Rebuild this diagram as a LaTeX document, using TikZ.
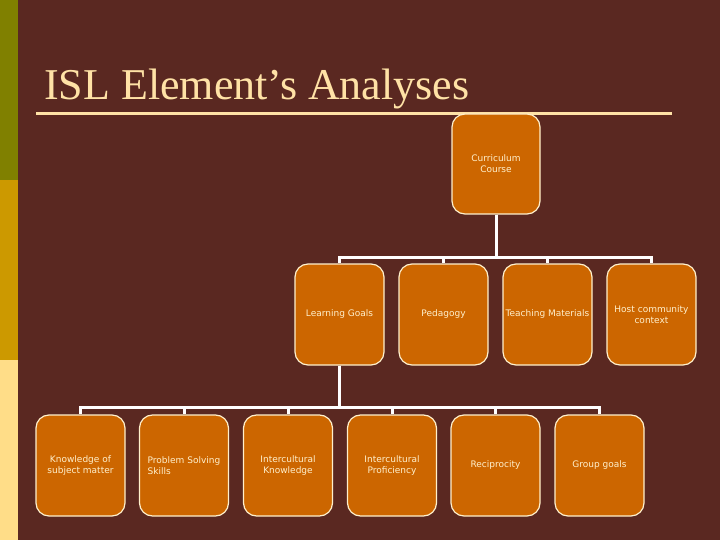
\documentclass[tikz,border=0pt]{standalone}
\usepackage{fontspec}
\setmainfont{Liberation Serif}
\newfontfamily\boxfont{DejaVu Sans}
\usetikzlibrary{positioning}
\definecolor{cBg}{HTML}{5A2821}
\definecolor{cOlive}{HTML}{808000}
\definecolor{cGold}{HTML}{CC9900}
\definecolor{cSand}{HTML}{FFDD88}
\definecolor{cBox}{HTML}{CC6600}
\definecolor{cRim}{HTML}{FFF0CC}
\definecolor{cTitle}{HTML}{FFE2A6}
\tikzset{
  card/.style={draw=cRim, line width=1.2pt, rounded corners=13pt, fill=cBox,
    minimum width=89pt, minimum height=101pt, inner sep=2pt, align=center,
    font=\boxfont\fontsize{9}{11}\selectfont, text=cRim},
  link/.style={draw=white, line width=3pt},
}
\begin{document}
\begin{tikzpicture}[x=1pt, y=-1pt]
% slide frame: 720 x 540 px, one unit = one pixel
\fill[cBg] (0,0) rectangle (720,540);
\useasboundingbox (0,0) rectangle (720,540);
\fill[cOlive] (0,0) rectangle (18,180);
\fill[cGold] (0,180) rectangle (18,360);
\fill[cSand] (0,360) rectangle (18,540);

% title and rule
\node[anchor=base west, inner sep=0pt, text=cTitle, font=\fontsize{44}{48}\selectfont] (title) at (44,100) {ISL Element’s Analyses};
\draw[cTitle, line width=3pt] (36,114) -- (672,114);

% root
\node[card, minimum width=88pt, minimum height=100pt] (cc) at (496,164) {Curriculum\\ Course};

% second level
\node[card] (lg)  at (339.5,314.5) {Learning Goals};
\node[card] (ped) at (443.5,314.5) {Pedagogy};
\node[card] (tm)  at (547.5,314.5) {Teaching Materials};
\node[card] (hc)  at (651.5,314.5) {Host community\\ context};

% third level, under learning goals
\node[card] (ksm) at (80.5,465.5)  {Knowledge of\\ subject matter};
\node[card, align=left] (pss) at (184,465.5) {Problem Solving\\ Skills};
\node[card] (ik)  at (288,465.5)   {Intercultural\\ Knowledge};
\node[card] (ip)  at (392,465.5)   {Intercultural\\ Proficiency};
\node[card] (rec) at (495.5,465.5) {Reciprocity};
\node[card] (gg)  at (599.5,465.5) {Group goals};

% connectors
\foreach \n in {lg,ped,tm,hc}
  \draw[link] (cc.south) -- ++(0,43) -| (\n.north);
\foreach \n in {ksm,pss,ik,ip,rec,gg}
  \draw[link] (lg.south) -- ++(0,42) -| (\n.north);
\end{tikzpicture}
\end{document}
